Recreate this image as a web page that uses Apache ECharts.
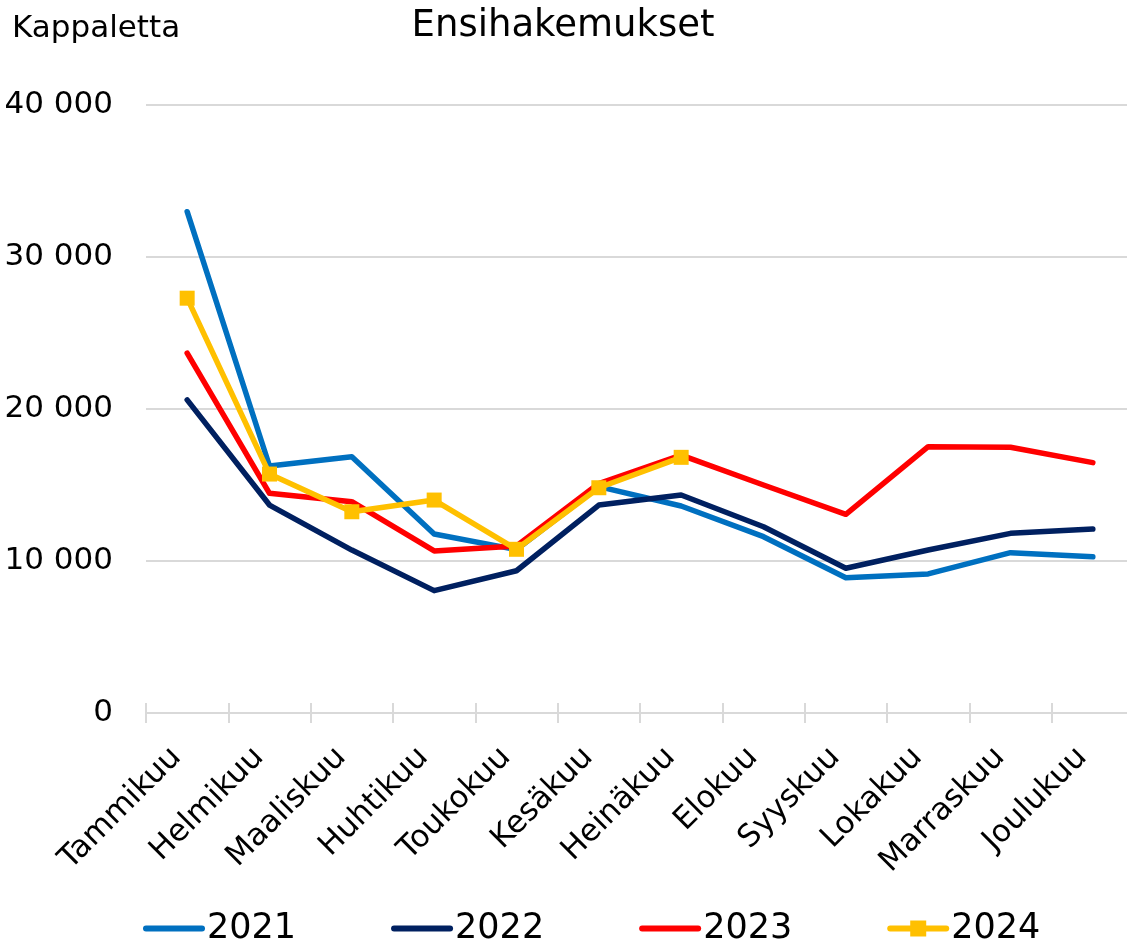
<!DOCTYPE html>
<html>
<head>
<meta charset="utf-8">
<script src="https://cdn.jsdelivr.net/npm/echarts@6/dist/echarts.min.js"></script>
<style>
html,body{margin:0;padding:0;background:#fff;overflow:hidden;}
#c{width:1140px;height:943px;}
</style>
</head>
<body>
<div id="c"></div>
<script>
const months = ['Tammikuu','Helmikuu','Maaliskuu','Huhtikuu','Toukokuu','Kesäkuu','Heinäkuu','Elokuu','Syyskuu','Lokakuu','Marraskuu','Joulukuu'];
const y2021 = [32980, 16250, 16860, 11780, 10750, 14890, 13620, 11600, 8900, 9150, 10550, 10280];
const y2022 = [20600, 13680, 10720, 8050, 9360, 13680, 14340, 12250, 9520, 10720, 11820, 12100];
const y2023 = [23670, 14450, 13900, 10660, 10990, 15100, 16970, 15000, 13070, 17520, 17480, 16470];
const y2024 = [27290, 15720, 13240, 14010, 10770, 14820, 16820];
const seriesNames = ['2021','2022','2023','2024'];
const colors = ['#0070C0','#002060','#FF0000','#FFC000'];
const FONT = 'DejaVu Sans';

const chart = echarts.init(document.getElementById('c'));
const mk = (i, data, sym) => ({
  name: seriesNames[i], type: 'line', data: data, xAxisIndex: 0,
  symbol: sym ? 'rect' : 'none', symbolSize: 15, showSymbol: !!sym,
  lineStyle: {color: colors[i], width: 5.5, cap: 'round', join: 'round'},
  itemStyle: {color: colors[i]},
  emphasis: {disabled: true}, animation: false, z: 2 + i
});
chart.setOption({
  animation: false,
  textStyle: {fontFamily: FONT, color: '#000'},
  graphic: [
    {type: 'text', x: 563, y: 26, style: {text: 'Ensihakemukset', font: '37px "DejaVu Sans"', fill: '#000', textAlign: 'center', textVerticalAlign: 'middle'}},
    {type: 'text', x: 12, y: 29, style: {text: 'Kappaletta', font: '31px "DejaVu Sans"', fill: '#000', textAlign: 'left', textVerticalAlign: 'middle'}}
  ],
  legend: {
    data: [
      {name: '2021', itemStyle: {opacity: 0}},
      {name: '2022', itemStyle: {opacity: 0}},
      {name: '2023', itemStyle: {opacity: 0}},
      {name: '2024'}
    ],
    left: 143, top: 911, padding: 0, itemWidth: 56, itemHeight: 20, itemGap: 95,
    lineStyle: {width: 6},
    textStyle: {fontFamily: FONT, fontSize: 35, color: '#000'}
  },
  grid: {left: 146, top: 105, width: 988, height: 608, containLabel: false},
  xAxis: [
    {type: 'category', data: months, boundaryGap: true,
     axisLine: {lineStyle: {color: '#d9d9d9', width: 2}},
     axisTick: {show: true, length: 10, lineStyle: {color: '#d9d9d9', width: 2}},
     axisLabel: {rotate: 45, fontFamily: FONT, fontSize: 31, color: '#000', margin: 29, interval: 0, padding: [0, 15, 0, 0]}},
    {type: 'category', data: months, boundaryGap: true, position: 'bottom',
     axisLine: {show: false},
     axisTick: {show: true, inside: true, length: 10, lineStyle: {color: '#d9d9d9', width: 2}},
     axisLabel: {show: false}}
  ],
  yAxis: {type: 'value', min: 0, max: 40000, interval: 10000,
    axisLine: {show: false}, axisTick: {show: false},
    splitLine: {lineStyle: {color: '#d9d9d9', width: 2}},
    axisLabel: {fontFamily: FONT, fontSize: 31, color: '#000', margin: 33,
      formatter: v => v === 0 ? '0' : String(v).replace(/\B(?=(\d{3})+(?!\d))/g, ' ')}},
  series: [mk(0, y2021), mk(1, y2022), mk(2, y2023), mk(3, y2024, true)]
});
</script>
</body>
</html>
